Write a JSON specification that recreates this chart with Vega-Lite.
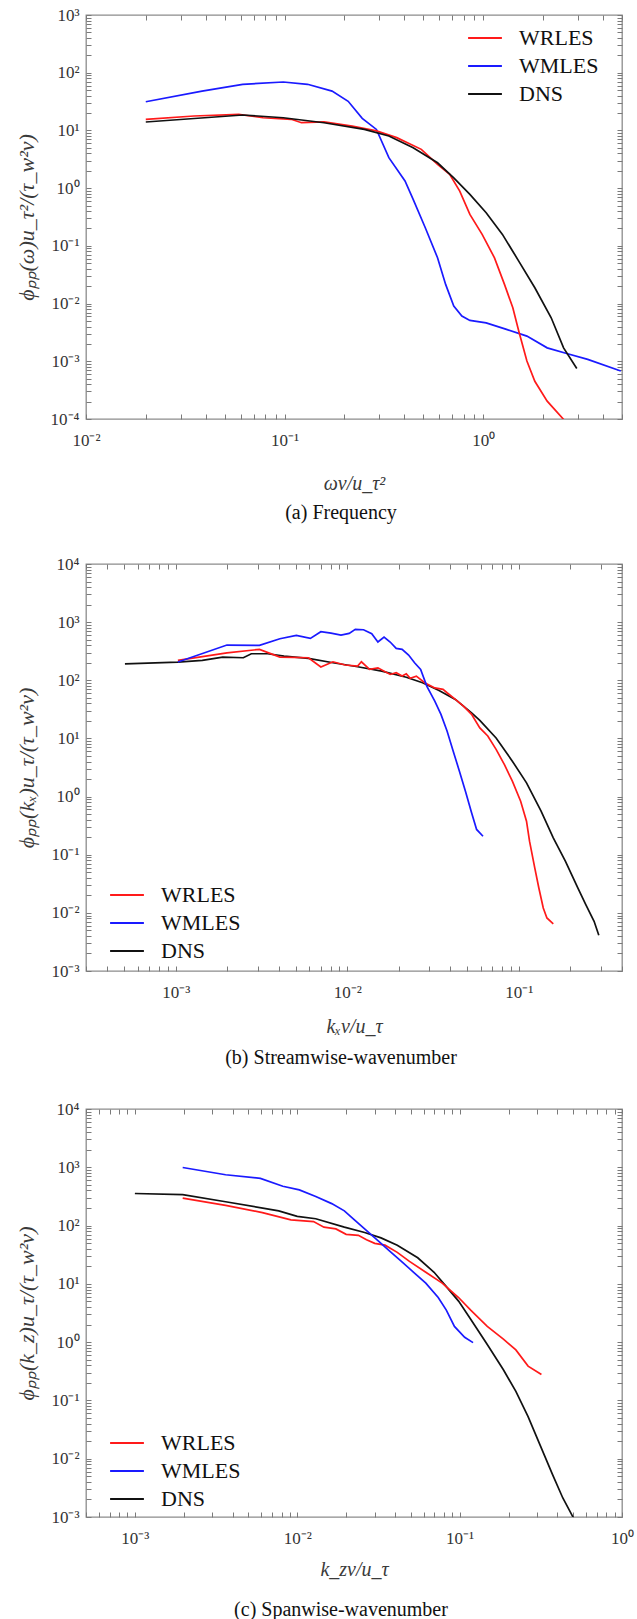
{
  "$schema": "https://vega.github.io/schema/vega-lite/v6.json",
  "padding": {"left": 14, "top": 5, "right": 5, "bottom": 5},
  "background": "white",
  "config": {
    "font": "Liberation Serif",
    "view": {"stroke": "#8c8c8c", "strokeWidth": 1.3},
    "axis": {
      "grid": false, "domain": false, "tickColor": "#7a7a7a", "tickSize": -5, "tickWidth": 1,
      "labelFont": "Liberation Serif", "labelFontSize": 17, "labelColor": "#333",
      "labelFlush": false, "labelOverlap": false, "labelBound": false,
      "titleFont": "Liberation Serif", "titleFontStyle": "italic", "titleFontWeight": "normal",
      "titleFontSize": 20, "titleColor": "#3a3a3a"
    },
    "axisX": {"labelPadding": 18, "titlePadding": 25},
    "axisY": {"labelPadding": 12, "titlePadding": 12, "titleFontSize": 22},
    "legend": {
      "labelFont": "Liberation Serif", "labelFontSize": 22, "labelColor": "#111",
      "symbolType": "M-1.3,0H1.3", "symbolSize": 676, "symbolStrokeWidth": 2,
      "labelOffset": 20, "rowPadding": 3, "padding": 0, "title": null
    },
    "title": {"font": "Liberation Serif", "fontSize": 20, "fontWeight": "normal", "color": "#111"}
  },
  "datasets": {
    "a": [
      {"x": 0.02, "y": 31.4, "s": "WMLES"}, {"x": 0.0384, "y": 48, "s": "WMLES"}, {"x": 0.0615, "y": 63, "s": "WMLES"},
      {"x": 0.0985, "y": 69, "s": "WMLES"}, {"x": 0.1305, "y": 63, "s": "WMLES"}, {"x": 0.1734, "y": 48, "s": "WMLES"},
      {"x": 0.209, "y": 32, "s": "WMLES"}, {"x": 0.246, "y": 16.2, "s": "WMLES"}, {"x": 0.29, "y": 10.4, "s": "WMLES"},
      {"x": 0.335, "y": 3.37, "s": "WMLES"}, {"x": 0.404, "y": 1.33, "s": "WMLES"}, {"x": 0.444, "y": 0.64, "s": "WMLES"},
      {"x": 0.511, "y": 0.206, "s": "WMLES"}, {"x": 0.589, "y": 0.0622, "s": "WMLES"}, {"x": 0.647, "y": 0.0215, "s": "WMLES"},
      {"x": 0.711, "y": 0.00905, "s": "WMLES"}, {"x": 0.781, "y": 0.00607, "s": "WMLES"}, {"x": 0.857, "y": 0.0051, "s": "WMLES"},
      {"x": 1.035, "y": 0.00464, "s": "WMLES"}, {"x": 1.31, "y": 0.00357, "s": "WMLES"}, {"x": 1.66, "y": 0.00273, "s": "WMLES"},
      {"x": 2.1, "y": 0.00171, "s": "WMLES"}, {"x": 2.66, "y": 0.00135, "s": "WMLES"}, {"x": 3.36, "y": 0.00108, "s": "WMLES"},
      {"x": 4.93, "y": 0.00068, "s": "WMLES"},
      {"x": 0.02, "y": 15.6, "s": "WRLES"}, {"x": 0.035, "y": 17.8, "s": "WRLES"}, {"x": 0.0588, "y": 19.0, "s": "WRLES"},
      {"x": 0.0778, "y": 16.6, "s": "WRLES"}, {"x": 0.108, "y": 15.6, "s": "WRLES"}, {"x": 0.1217, "y": 13.6, "s": "WRLES"},
      {"x": 0.158, "y": 14.1, "s": "WRLES"}, {"x": 0.219, "y": 11.9, "s": "WRLES"}, {"x": 0.29, "y": 9.8, "s": "WRLES"},
      {"x": 0.367, "y": 7.5, "s": "WRLES"}, {"x": 0.488, "y": 4.7, "s": "WRLES"}, {"x": 0.589, "y": 2.58, "s": "WRLES"},
      {"x": 0.678, "y": 1.73, "s": "WRLES"}, {"x": 0.762, "y": 0.89, "s": "WRLES"}, {"x": 0.857, "y": 0.35, "s": "WRLES"},
      {"x": 0.988, "y": 0.158, "s": "WRLES"}, {"x": 1.14, "y": 0.062, "s": "WRLES"}, {"x": 1.28, "y": 0.0215, "s": "WRLES"},
      {"x": 1.41, "y": 0.00846, "s": "WRLES"}, {"x": 1.51, "y": 0.00334, "s": "WRLES"}, {"x": 1.66, "y": 0.00101, "s": "WRLES"},
      {"x": 1.82, "y": 0.00045, "s": "WRLES"}, {"x": 2.1, "y": 0.000204, "s": "WRLES"}, {"x": 2.53, "y": 0.0001, "s": "WRLES"},
      {"x": 2.65, "y": 0.00008, "s": "WRLES"},
      {"x": 0.02, "y": 14.0, "s": "DNS"}, {"x": 0.0615, "y": 18.5, "s": "DNS"}, {"x": 0.0985, "y": 16.6, "s": "DNS"},
      {"x": 0.158, "y": 13.6, "s": "DNS"}, {"x": 0.252, "y": 10.4, "s": "DNS"}, {"x": 0.335, "y": 8.0, "s": "DNS"},
      {"x": 0.444, "y": 5.0, "s": "DNS"}, {"x": 0.589, "y": 2.75, "s": "DNS"}, {"x": 0.711, "y": 1.51, "s": "DNS"},
      {"x": 0.857, "y": 0.78, "s": "DNS"}, {"x": 1.035, "y": 0.375, "s": "DNS"}, {"x": 1.25, "y": 0.158, "s": "DNS"},
      {"x": 1.51, "y": 0.0545, "s": "DNS"}, {"x": 1.82, "y": 0.0188, "s": "DNS"}, {"x": 2.2, "y": 0.00568, "s": "DNS"},
      {"x": 2.54, "y": 0.00171, "s": "DNS"}, {"x": 2.96, "y": 0.00075, "s": "DNS"}
    ],
    "b": [
      {"x": 0.000506, "y": 192, "s": "DNS"}, {"x": 0.00103, "y": 206, "s": "DNS"}, {"x": 0.00143, "y": 220, "s": "DNS"},
      {"x": 0.00188, "y": 251, "s": "DNS"}, {"x": 0.00248, "y": 244, "s": "DNS"}, {"x": 0.00276, "y": 286, "s": "DNS"},
      {"x": 0.00344, "y": 286, "s": "DNS"}, {"x": 0.00428, "y": 261, "s": "DNS"}, {"x": 0.00594, "y": 238, "s": "DNS"},
      {"x": 0.00826, "y": 200, "s": "DNS"}, {"x": 0.0115, "y": 171, "s": "DNS"}, {"x": 0.0159, "y": 144, "s": "DNS"},
      {"x": 0.0221, "y": 113, "s": "DNS"}, {"x": 0.0275, "y": 90.6, "s": "DNS"}, {"x": 0.0343, "y": 67, "s": "DNS"},
      {"x": 0.0427, "y": 46.9, "s": "DNS"}, {"x": 0.0531, "y": 27.6, "s": "DNS"}, {"x": 0.0593, "y": 20.4, "s": "DNS"},
      {"x": 0.0738, "y": 10.2, "s": "DNS"}, {"x": 0.0918, "y": 4.06, "s": "DNS"}, {"x": 0.111, "y": 1.72, "s": "DNS"},
      {"x": 0.135, "y": 0.561, "s": "DNS"}, {"x": 0.159, "y": 0.195, "s": "DNS"}, {"x": 0.187, "y": 0.0773, "s": "DNS"},
      {"x": 0.221, "y": 0.0268, "s": "DNS"}, {"x": 0.246, "y": 0.0139, "s": "DNS"}, {"x": 0.275, "y": 0.00716, "s": "DNS"},
      {"x": 0.293, "y": 0.00412, "s": "DNS"},
      {"x": 0.00103, "y": 220, "s": "WRLES"}, {"x": 0.00199, "y": 297, "s": "WRLES"}, {"x": 0.00308, "y": 340, "s": "WRLES"},
      {"x": 0.00405, "y": 251, "s": "WRLES"}, {"x": 0.00594, "y": 244, "s": "WRLES"}, {"x": 0.00702, "y": 169, "s": "WRLES"},
      {"x": 0.00826, "y": 208, "s": "WRLES"}, {"x": 0.00973, "y": 183, "s": "WRLES"}, {"x": 0.0115, "y": 176, "s": "WRLES"},
      {"x": 0.0121, "y": 208, "s": "WRLES"}, {"x": 0.0135, "y": 154, "s": "WRLES"}, {"x": 0.0151, "y": 164, "s": "WRLES"},
      {"x": 0.0178, "y": 126, "s": "WRLES"}, {"x": 0.0193, "y": 135, "s": "WRLES"}, {"x": 0.0209, "y": 118, "s": "WRLES"},
      {"x": 0.0221, "y": 129, "s": "WRLES"}, {"x": 0.0233, "y": 108, "s": "WRLES"}, {"x": 0.0253, "y": 118, "s": "WRLES"},
      {"x": 0.0283, "y": 90.6, "s": "WRLES"}, {"x": 0.0324, "y": 74, "s": "WRLES"}, {"x": 0.0362, "y": 69.7, "s": "WRLES"},
      {"x": 0.0382, "y": 61, "s": "WRLES"}, {"x": 0.0427, "y": 46.9, "s": "WRLES"}, {"x": 0.0476, "y": 36, "s": "WRLES"},
      {"x": 0.0531, "y": 25.9, "s": "WRLES"}, {"x": 0.0593, "y": 15.2, "s": "WRLES"}, {"x": 0.066, "y": 11, "s": "WRLES"},
      {"x": 0.0738, "y": 6.47, "s": "WRLES"}, {"x": 0.0824, "y": 3.57, "s": "WRLES"}, {"x": 0.0918, "y": 1.84, "s": "WRLES"},
      {"x": 0.1026, "y": 0.83, "s": "WRLES"}, {"x": 0.111, "y": 0.378, "s": "WRLES"}, {"x": 0.1156, "y": 0.171, "s": "WRLES"},
      {"x": 0.124, "y": 0.0593, "s": "WRLES"}, {"x": 0.131, "y": 0.0268, "s": "WRLES"}, {"x": 0.139, "y": 0.0121, "s": "WRLES"},
      {"x": 0.146, "y": 0.00817, "s": "WRLES"}, {"x": 0.159, "y": 0.00644, "s": "WRLES"},
      {"x": 0.00103, "y": 206, "s": "WMLES"}, {"x": 0.00199, "y": 404, "s": "WMLES"}, {"x": 0.00308, "y": 398, "s": "WMLES"},
      {"x": 0.00405, "y": 518, "s": "WMLES"}, {"x": 0.00505, "y": 592, "s": "WMLES"}, {"x": 0.0061, "y": 526, "s": "WMLES"},
      {"x": 0.00702, "y": 684, "s": "WMLES"}, {"x": 0.00804, "y": 649, "s": "WMLES"}, {"x": 0.0092, "y": 600, "s": "WMLES"},
      {"x": 0.01027, "y": 641, "s": "WMLES"}, {"x": 0.01115, "y": 752, "s": "WMLES"}, {"x": 0.01245, "y": 740, "s": "WMLES"},
      {"x": 0.0139, "y": 632, "s": "WMLES"}, {"x": 0.0151, "y": 455, "s": "WMLES"}, {"x": 0.0164, "y": 555, "s": "WMLES"},
      {"x": 0.0178, "y": 455, "s": "WMLES"}, {"x": 0.0193, "y": 354, "s": "WMLES"}, {"x": 0.0209, "y": 340, "s": "WMLES"},
      {"x": 0.0228, "y": 272, "s": "WMLES"}, {"x": 0.0247, "y": 200, "s": "WMLES"}, {"x": 0.0268, "y": 154, "s": "WMLES"},
      {"x": 0.0291, "y": 79.4, "s": "WMLES"}, {"x": 0.0324, "y": 43.8, "s": "WMLES"}, {"x": 0.0352, "y": 25.9, "s": "WMLES"},
      {"x": 0.0382, "y": 13.4, "s": "WMLES"}, {"x": 0.0415, "y": 6.04, "s": "WMLES"}, {"x": 0.0451, "y": 2.73, "s": "WMLES"},
      {"x": 0.0489, "y": 1.24, "s": "WMLES"}, {"x": 0.0531, "y": 0.525, "s": "WMLES"}, {"x": 0.0568, "y": 0.272, "s": "WMLES"},
      {"x": 0.0619, "y": 0.208, "s": "WMLES"}
    ],
    "c": [
      {"x": 0.001, "y": 355, "s": "DNS"}, {"x": 0.00197, "y": 340, "s": "DNS"}, {"x": 0.00362, "y": 256, "s": "DNS"},
      {"x": 0.00769, "y": 179, "s": "DNS"}, {"x": 0.01, "y": 144, "s": "DNS"}, {"x": 0.013, "y": 131, "s": "DNS"},
      {"x": 0.0195, "y": 94, "s": "DNS"}, {"x": 0.026, "y": 76, "s": "DNS"}, {"x": 0.0328, "y": 61.4, "s": "DNS"},
      {"x": 0.0413, "y": 46.1, "s": "DNS"}, {"x": 0.0552, "y": 28, "s": "DNS"}, {"x": 0.0696, "y": 15.8, "s": "DNS"},
      {"x": 0.0828, "y": 8.95, "s": "DNS"}, {"x": 0.0985, "y": 5.06, "s": "DNS"}, {"x": 0.117, "y": 2.48, "s": "DNS"},
      {"x": 0.148, "y": 0.91, "s": "DNS"}, {"x": 0.186, "y": 0.336, "s": "DNS"}, {"x": 0.222, "y": 0.143, "s": "DNS"},
      {"x": 0.264, "y": 0.0526, "s": "DNS"}, {"x": 0.314, "y": 0.0168, "s": "DNS"}, {"x": 0.373, "y": 0.00537, "s": "DNS"},
      {"x": 0.432, "y": 0.00212, "s": "DNS"}, {"x": 0.499, "y": 0.001, "s": "DNS"}, {"x": 0.52, "y": 0.0007, "s": "DNS"},
      {"x": 0.00197, "y": 295, "s": "WRLES"}, {"x": 0.00362, "y": 222, "s": "WRLES"}, {"x": 0.0061, "y": 167, "s": "WRLES"},
      {"x": 0.00914, "y": 125, "s": "WRLES"}, {"x": 0.0126, "y": 117, "s": "WRLES"}, {"x": 0.0146, "y": 94, "s": "WRLES"},
      {"x": 0.0173, "y": 87.7, "s": "WRLES"}, {"x": 0.02, "y": 70.8, "s": "WRLES"}, {"x": 0.0238, "y": 67.9, "s": "WRLES"},
      {"x": 0.0267, "y": 57.2, "s": "WRLES"}, {"x": 0.03, "y": 49.6, "s": "WRLES"}, {"x": 0.0347, "y": 46.1, "s": "WRLES"},
      {"x": 0.0413, "y": 34.7, "s": "WRLES"}, {"x": 0.0491, "y": 24.3, "s": "WRLES"}, {"x": 0.0619, "y": 15.8, "s": "WRLES"},
      {"x": 0.0781, "y": 10.3, "s": "WRLES"}, {"x": 0.0985, "y": 5.83, "s": "WRLES"}, {"x": 0.117, "y": 3.54, "s": "WRLES"},
      {"x": 0.148, "y": 1.86, "s": "WRLES"}, {"x": 0.186, "y": 1.13, "s": "WRLES"}, {"x": 0.222, "y": 0.736, "s": "WRLES"},
      {"x": 0.264, "y": 0.388, "s": "WRLES"}, {"x": 0.319, "y": 0.279, "s": "WRLES"},
      {"x": 0.00197, "y": 991, "s": "WMLES"}, {"x": 0.00362, "y": 745, "s": "WMLES"}, {"x": 0.00593, "y": 645, "s": "WMLES"},
      {"x": 0.00815, "y": 472, "s": "WMLES"}, {"x": 0.0103, "y": 409, "s": "WMLES"}, {"x": 0.013, "y": 316, "s": "WMLES"},
      {"x": 0.0163, "y": 238, "s": "WMLES"}, {"x": 0.0195, "y": 179, "s": "WMLES"}, {"x": 0.0225, "y": 125, "s": "WMLES"},
      {"x": 0.026, "y": 87.7, "s": "WMLES"}, {"x": 0.0309, "y": 57.2, "s": "WMLES"}, {"x": 0.0368, "y": 37.2, "s": "WMLES"},
      {"x": 0.0438, "y": 24.3, "s": "WMLES"}, {"x": 0.0521, "y": 15.8, "s": "WMLES"}, {"x": 0.0619, "y": 10.3, "s": "WMLES"},
      {"x": 0.0738, "y": 5.83, "s": "WMLES"}, {"x": 0.0828, "y": 3.54, "s": "WMLES"}, {"x": 0.0929, "y": 1.86, "s": "WMLES"},
      {"x": 0.1074, "y": 1.21, "s": "WMLES"}, {"x": 0.121, "y": 0.98, "s": "WMLES"}
    ]
  },
  "spacing": 145,
  "bounds": "flush",
  "resolve": {"scale": {"color": "independent"}, "legend": {"color": "independent"}},
  "vconcat": [
    {
      "width": 536, "height": 404,
      "data": {"name": "a"},
      "title": {"text": "(a) Frequency", "orient": "bottom", "offset": 10, "dx": -13},
      "layer": [
        {
          "mark": {"type": "line", "clip": true, "strokeWidth": 1.7},
          "encoding": {
            "x": {"field": "x", "type": "quantitative",
              "scale": {"type": "log", "domain": [0.01, 5], "nice": false},
              "axis": {"title": "ων/u_τ²",
                "values": [0.01,0.02,0.03,0.04,0.05,0.06,0.07,0.08,0.09,0.1,0.2,0.3,0.4,0.5,0.6,0.7,0.8,0.9,1,2,3,4,5],
                "labelExpr": "datum.value == 0.0001 ? '10⁻⁴' : datum.value == 0.001 ? '10⁻³' : datum.value == 0.01 ? '10⁻²' : datum.value == 0.1 ? '10⁻¹' : datum.value == 1 ? '10⁰' : datum.value == 10 ? '10¹' : datum.value == 100 ? '10²' : datum.value == 1000 ? '10³' : datum.value == 10000 ? '10⁴' : ''"}},
            "y": {"field": "y", "type": "quantitative",
              "scale": {"type": "log", "domain": [0.0001, 1000], "nice": false},
              "axis": {"title": "ϕₚₚ(ω)u_τ²/(τ_w²ν)",
                "values": [0.0001,0.0002,0.0003,0.0004,0.0005,0.0006,0.0007,0.0008,0.0009,0.001,0.002,0.003,0.004,0.005,0.006,0.007,0.008,0.009,0.01,0.02,0.03,0.04,0.05,0.06,0.07,0.08,0.09,0.1,0.2,0.3,0.4,0.5,0.6,0.7,0.8,0.9,1,2,3,4,5,6,7,8,9,10,20,30,40,50,60,70,80,90,100,200,300,400,500,600,700,800,900,1000],
                "labelExpr": "datum.value == 0.0001 ? '10⁻⁴' : datum.value == 0.001 ? '10⁻³' : datum.value == 0.01 ? '10⁻²' : datum.value == 0.1 ? '10⁻¹' : datum.value == 1 ? '10⁰' : datum.value == 10 ? '10¹' : datum.value == 100 ? '10²' : datum.value == 1000 ? '10³' : datum.value == 10000 ? '10⁴' : ''"}},
            "color": {"field": "s", "type": "nominal",
              "scale": {"domain": ["WRLES", "WMLES", "DNS"], "range": ["#ff1a1a", "#1a1aff", "#111111"]},
              "legend": {"orient": "none", "legendX": 385, "legendY": 9}}
          }
        },
        {
          "mark": {"type": "line", "strokeOpacity": 0},
          "encoding": {
            "x": {"field": "x", "type": "quantitative", "scale": {"type": "log", "domain": [0.01, 5], "nice": false},
              "axis": {"orient": "top", "labels": false, "title": null,
                "values": [0.01,0.02,0.03,0.04,0.05,0.06,0.07,0.08,0.09,0.1,0.2,0.3,0.4,0.5,0.6,0.7,0.8,0.9,1,2,3,4,5]}},
            "y": {"field": "y", "type": "quantitative", "scale": {"type": "log", "domain": [0.0001, 1000], "nice": false},
              "axis": {"orient": "right", "labels": false, "title": null,
                "values": [0.0001,0.0002,0.0003,0.0004,0.0005,0.0006,0.0007,0.0008,0.0009,0.001,0.002,0.003,0.004,0.005,0.006,0.007,0.008,0.009,0.01,0.02,0.03,0.04,0.05,0.06,0.07,0.08,0.09,0.1,0.2,0.3,0.4,0.5,0.6,0.7,0.8,0.9,1,2,3,4,5,6,7,8,9,10,20,30,40,50,60,70,80,90,100,200,300,400,500,600,700,800,900,1000]}},
            "detail": {"field": "s"}
          }
        }
      ],
      "resolve": {"axis": {"x": "independent", "y": "independent"}}
    },
    {
      "spacing": 138,
      "bounds": "flush",
      "resolve": {"scale": {"color": "independent"}, "legend": {"color": "independent"}},
      "vconcat": [
        {
          "width": 536, "height": 407,
          "data": {"name": "b"},
          "title": {"text": "(b) Streamwise-wavenumber", "orient": "bottom", "offset": 12, "dx": -13},
          "layer": [
            {
              "mark": {"type": "line", "clip": true, "strokeWidth": 1.7},
              "encoding": {
                "x": {"field": "x", "type": "quantitative",
                  "scale": {"type": "log", "domain": [0.0003, 0.4], "nice": false},
                  "axis": {"title": "kₓν/u_τ", "titlePadding": 16,
                    "values": [0.0003,0.0004,0.0005,0.0006,0.0007,0.0008,0.0009,0.001,0.002,0.003,0.004,0.005,0.006,0.007,0.008,0.009,0.01,0.02,0.03,0.04,0.05,0.06,0.07,0.08,0.09,0.1,0.2,0.3,0.4],
                    "labelExpr": "datum.value == 0.0001 ? '10⁻⁴' : datum.value == 0.001 ? '10⁻³' : datum.value == 0.01 ? '10⁻²' : datum.value == 0.1 ? '10⁻¹' : datum.value == 1 ? '10⁰' : datum.value == 10 ? '10¹' : datum.value == 100 ? '10²' : datum.value == 1000 ? '10³' : datum.value == 10000 ? '10⁴' : ''"}},
                "y": {"field": "y", "type": "quantitative",
                  "scale": {"type": "log", "domain": [0.001, 10000], "nice": false},
                  "axis": {"title": "ϕₚₚ(kₓ)u_τ/(τ_w²ν)",
                    "values": [0.001,0.002,0.003,0.004,0.005,0.006,0.007,0.008,0.009,0.01,0.02,0.03,0.04,0.05,0.06,0.07,0.08,0.09,0.1,0.2,0.3,0.4,0.5,0.6,0.7,0.8,0.9,1,2,3,4,5,6,7,8,9,10,20,30,40,50,60,70,80,90,100,200,300,400,500,600,700,800,900,1000,2000,3000,4000,5000,6000,7000,8000,9000,10000],
                    "labelExpr": "datum.value == 0.0001 ? '10⁻⁴' : datum.value == 0.001 ? '10⁻³' : datum.value == 0.01 ? '10⁻²' : datum.value == 0.1 ? '10⁻¹' : datum.value == 1 ? '10⁰' : datum.value == 10 ? '10¹' : datum.value == 100 ? '10²' : datum.value == 1000 ? '10³' : datum.value == 10000 ? '10⁴' : ''"}},
                "color": {"field": "s", "type": "nominal",
                  "scale": {"domain": ["WRLES", "WMLES", "DNS"], "range": ["#ff1a1a", "#1a1aff", "#111111"]},
                  "legend": {"orient": "none", "legendX": 27, "legendY": 317}}
              }
            },
            {
              "mark": {"type": "line", "strokeOpacity": 0},
              "encoding": {
                "x": {"field": "x", "type": "quantitative", "scale": {"type": "log", "domain": [0.0003, 0.4], "nice": false},
                  "axis": {"orient": "top", "labels": false, "title": null,
                    "values": [0.0003,0.0004,0.0005,0.0006,0.0007,0.0008,0.0009,0.001,0.002,0.003,0.004,0.005,0.006,0.007,0.008,0.009,0.01,0.02,0.03,0.04,0.05,0.06,0.07,0.08,0.09,0.1,0.2,0.3,0.4]}},
                "y": {"field": "y", "type": "quantitative", "scale": {"type": "log", "domain": [0.001, 10000], "nice": false},
                  "axis": {"orient": "right", "labels": false, "title": null,
                    "values": [0.001,0.002,0.003,0.004,0.005,0.006,0.007,0.008,0.009,0.01,0.02,0.03,0.04,0.05,0.06,0.07,0.08,0.09,0.1,0.2,0.3,0.4,0.5,0.6,0.7,0.8,0.9,1,2,3,4,5,6,7,8,9,10,20,30,40,50,60,70,80,90,100,200,300,400,500,600,700,800,900,1000,2000,3000,4000,5000,6000,7000,8000,9000,10000]}},
                "detail": {"field": "s"}
              }
            }
          ],
          "resolve": {"axis": {"x": "independent", "y": "independent"}}
        },
        {
          "width": 536, "height": 408,
          "data": {"name": "c"},
          "title": {"text": "(c) Spanwise-wavenumber", "orient": "bottom", "offset": 21, "dx": -13},
          "layer": [
            {
              "mark": {"type": "line", "clip": true, "strokeWidth": 1.7},
              "encoding": {
                "x": {"field": "x", "type": "quantitative",
                  "scale": {"type": "log", "domain": [0.0005, 1], "nice": false},
                  "axis": {"title": "k_zν/u_τ", "titlePadding": 13,
                    "values": [0.0005,0.0006,0.0007,0.0008,0.0009,0.001,0.002,0.003,0.004,0.005,0.006,0.007,0.008,0.009,0.01,0.02,0.03,0.04,0.05,0.06,0.07,0.08,0.09,0.1,0.2,0.3,0.4,0.5,0.6,0.7,0.8,0.9,1],
                    "labelExpr": "datum.value == 0.0001 ? '10⁻⁴' : datum.value == 0.001 ? '10⁻³' : datum.value == 0.01 ? '10⁻²' : datum.value == 0.1 ? '10⁻¹' : datum.value == 1 ? '10⁰' : datum.value == 10 ? '10¹' : datum.value == 100 ? '10²' : datum.value == 1000 ? '10³' : datum.value == 10000 ? '10⁴' : ''"}},
                "y": {"field": "y", "type": "quantitative",
                  "scale": {"type": "log", "domain": [0.001, 10000], "nice": false},
                  "axis": {"title": "ϕₚₚ(k_z)u_τ/(τ_w²ν)",
                    "values": [0.001,0.002,0.003,0.004,0.005,0.006,0.007,0.008,0.009,0.01,0.02,0.03,0.04,0.05,0.06,0.07,0.08,0.09,0.1,0.2,0.3,0.4,0.5,0.6,0.7,0.8,0.9,1,2,3,4,5,6,7,8,9,10,20,30,40,50,60,70,80,90,100,200,300,400,500,600,700,800,900,1000,2000,3000,4000,5000,6000,7000,8000,9000,10000],
                    "labelExpr": "datum.value == 0.0001 ? '10⁻⁴' : datum.value == 0.001 ? '10⁻³' : datum.value == 0.01 ? '10⁻²' : datum.value == 0.1 ? '10⁻¹' : datum.value == 1 ? '10⁰' : datum.value == 10 ? '10¹' : datum.value == 100 ? '10²' : datum.value == 1000 ? '10³' : datum.value == 10000 ? '10⁴' : ''"}},
                "color": {"field": "s", "type": "nominal",
                  "scale": {"domain": ["WRLES", "WMLES", "DNS"], "range": ["#ff1a1a", "#1a1aff", "#111111"]},
                  "legend": {"orient": "none", "legendX": 27, "legendY": 320}}
              }
            },
            {
              "mark": {"type": "line", "strokeOpacity": 0},
              "encoding": {
                "x": {"field": "x", "type": "quantitative", "scale": {"type": "log", "domain": [0.0005, 1], "nice": false},
                  "axis": {"orient": "top", "labels": false, "title": null,
                    "values": [0.0005,0.0006,0.0007,0.0008,0.0009,0.001,0.002,0.003,0.004,0.005,0.006,0.007,0.008,0.009,0.01,0.02,0.03,0.04,0.05,0.06,0.07,0.08,0.09,0.1,0.2,0.3,0.4,0.5,0.6,0.7,0.8,0.9,1]}},
                "y": {"field": "y", "type": "quantitative", "scale": {"type": "log", "domain": [0.001, 10000], "nice": false},
                  "axis": {"orient": "right", "labels": false, "title": null,
                    "values": [0.001,0.002,0.003,0.004,0.005,0.006,0.007,0.008,0.009,0.01,0.02,0.03,0.04,0.05,0.06,0.07,0.08,0.09,0.1,0.2,0.3,0.4,0.5,0.6,0.7,0.8,0.9,1,2,3,4,5,6,7,8,9,10,20,30,40,50,60,70,80,90,100,200,300,400,500,600,700,800,900,1000,2000,3000,4000,5000,6000,7000,8000,9000,10000]}},
                "detail": {"field": "s"}
              }
            }
          ],
          "resolve": {"axis": {"x": "independent", "y": "independent"}}
        }
      ]
    }
  ]
}
